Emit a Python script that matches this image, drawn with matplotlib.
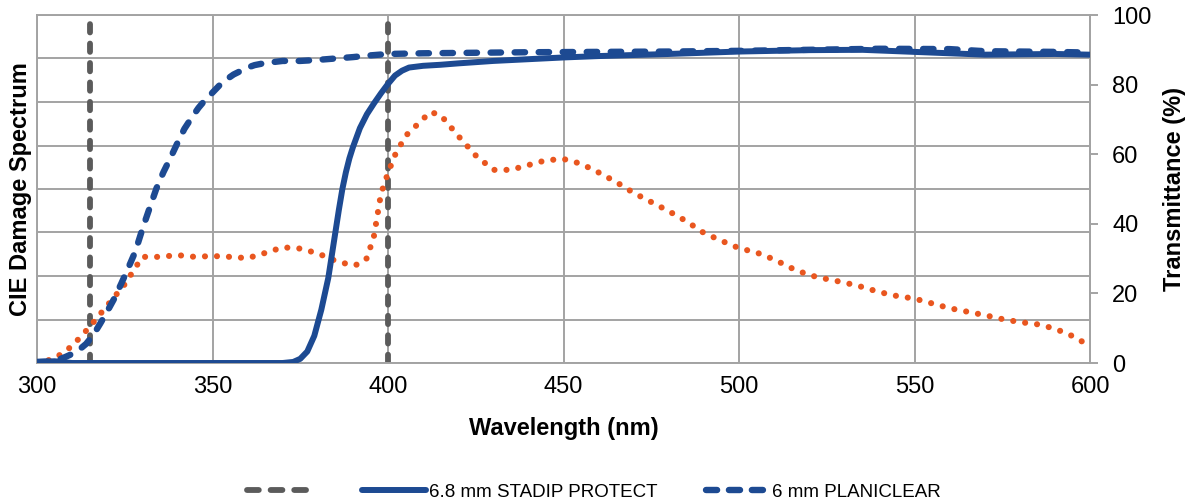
import numpy as np
import matplotlib
matplotlib.use("Agg")
import matplotlib.pyplot as plt
from matplotlib.lines import Line2D

plt.rcParams['font.family'] = ['Liberation Sans', 'DejaVu Sans']
plt.rcParams['lines.scale_dashes'] = False

# CIE damage spectrum (relative units, left axis)
cie_nm = [300, 305, 310, 315, 320, 325, 330, 335, 340, 345, 350, 355, 360, 365,
          370, 375, 380, 385, 390, 392, 394, 396, 398, 400, 402, 405, 410, 412,
          415, 420, 425, 430, 435, 440, 445, 450, 455, 460, 465, 470, 475, 480,
          485, 490, 495, 500, 505, 510, 515, 520, 525, 530, 535, 540, 545, 550,
          555, 560, 565, 570, 575, 580, 585, 590, 595, 600]
cie_val = [0.000, 0.010, 0.039, 0.083, 0.132, 0.181, 0.244, 0.244, 0.248, 0.244,
           0.246, 0.244, 0.241, 0.253, 0.266, 0.263, 0.252, 0.235, 0.224, 0.228,
           0.241, 0.292, 0.389, 0.437, 0.478, 0.522, 0.561, 0.577, 0.570, 0.522,
           0.477, 0.444, 0.444, 0.455, 0.466, 0.469, 0.458, 0.438, 0.416, 0.391,
           0.370, 0.349, 0.326, 0.299, 0.281, 0.264, 0.254, 0.238, 0.218, 0.202,
           0.193, 0.185, 0.175, 0.163, 0.154, 0.148, 0.137, 0.126, 0.118, 0.110,
           0.101, 0.094, 0.089, 0.079, 0.062, 0.039]

# 6.8 mm STADIP PROTECT transmittance (%)
stadip_nm = [300, 305, 310, 370, 373, 375, 377, 379, 381, 383, 384, 385, 386,
             387, 388, 389, 390, 392, 394, 396, 398, 400, 402, 404, 406, 410,
             415, 420, 430, 440, 450, 460, 480, 500, 520, 535, 550, 560, 570,
             580, 590, 600]
stadip_t = [0.3, 0.5, 0.0, 0.0, 0.3, 1.2, 3.3, 7.8, 15.3, 24.5, 31.0, 37.5, 44.0,
            50.0, 54.8, 58.8, 62.0, 67.5, 71.5, 74.6, 77.5, 80.2, 82.6, 84.0,
            84.9, 85.4, 85.7, 86.1, 86.8, 87.3, 87.8, 88.2, 88.8, 89.5, 89.9,
            90.0, 89.4, 89.0, 88.6, 88.7, 88.8, 88.6]

# 6 mm PLANICLEAR transmittance (%)
plani_nm = [300, 303, 306, 308, 310, 312, 314, 316, 318, 320, 322, 324, 326, 328,
            330, 332, 334, 336, 338, 340, 342, 344, 346, 348, 350, 352, 354, 356,
            358, 360, 362, 365, 370, 375, 380, 385, 390, 395, 400, 405, 410, 420,
            440, 460, 480, 500, 520, 540, 560, 570, 580, 590, 600]
plani_t = [0.3, 0.4, 0.9, 1.7, 2.6, 3.8, 5.5, 8.0, 11.3, 14.8, 18.5, 22.8, 27.3,
           32.0, 38.4, 44.3, 50.1, 54.8, 58.9, 63.2, 67.3, 70.4, 73.3, 75.7, 77.7,
           79.8, 81.5, 82.9, 83.9, 84.9, 85.6, 86.2, 86.8, 86.8, 87.1, 87.5, 87.9,
           88.4, 88.8, 88.9, 89.0, 89.1, 89.3, 89.4, 89.5, 89.7, 90.0, 90.3, 90.2,
           89.6, 89.5, 89.4, 89.2]

# Reference wavelengths marked with vertical lines
marker_nm = [315, 400]

x_ticks = [300, 350, 400, 450, 500, 550, 600]
t_ticks = [0, 20, 40, 60, 80, 100]

BLUE = '#1d4a92'
ORANGE = '#e9561f'
GREY = '#5b5b5b'
GRID = '#a3a3a3'

GREY_DASH = (6.0, 8.0)
BLUE_DASH = (7.5, 9.8)

fig = plt.figure(figsize=(11.95, 5.04), dpi=100)
ax = fig.add_axes([37 / 1195, 1 - 363 / 504, (1090 - 37) / 1195, 348 / 504])
ax2 = ax.twinx()

# left axis: CIE damage
ax.set_xlim(300, 600)
ax.set_ylim(0, 0.8)
ax.set_xticks(x_ticks)
ax.set_yticks(np.arange(0, 0.81, 0.1))
ax.set_yticklabels([])
ax.tick_params(axis='both', length=0)
ax.tick_params(axis='x', labelsize=17, pad=9.5)
ax.grid(True, color=GRID, lw=1.4)
ax.set_axisbelow(True)
for s in ['left', 'bottom', 'top', 'right']:
    ax.spines[s].set_color(GRID)
    ax.spines[s].set_linewidth(1.4)

for nm in marker_nm:
    ax.axvline(nm, color=GREY, lw=4.2, dashes=GREY_DASH, dash_capstyle='round',
               zorder=2)

ax.plot(cie_nm, cie_val, color=ORANGE, lw=4.4, dashes=(0.05, 8.6),
        dash_capstyle='round', zorder=3)

ax.set_xlabel('Wavelength (nm)', fontsize=17, fontweight='bold')
ax.xaxis.label.set_va('center')
ax.xaxis.set_label_coords(0.5, (363 - 428) / 348)
ax.set_ylabel('CIE Damage Spectrum', fontsize=17, fontweight='bold')
ax.yaxis.label.set_va('center')
ax.yaxis.set_label_coords((21 - 37) / 1053, 0.5)

# right axis: transmittance
ax2.set_ylim(0, 100)
ax2.set_yticks(t_ticks)
ax2.tick_params(axis='y', length=6, width=1.4, color=GRID, labelsize=17, pad=10,
                direction='out')
for s in ['left', 'bottom', 'top', 'right']:
    ax2.spines[s].set_visible(False)
ax2.spines['right'].set_visible(True)
ax2.spines['right'].set_color(GRID)
ax2.spines['right'].set_linewidth(1.4)

ax2.plot(stadip_nm, stadip_t, color=BLUE, lw=4.3, solid_capstyle='round', zorder=4)
ax2.plot(plani_nm, plani_t, color=BLUE, lw=4.6, dashes=BLUE_DASH,
         dash_capstyle='round', zorder=5)

ax2.set_ylabel('Transmittance (%)', fontsize=17, fontweight='bold', rotation=90)
ax2.yaxis.label.set_va('center')
ax2.yaxis.set_label_coords((1174 - 37) / 1053, 0.5)

# legend handles use a longer dash so each key shows three dashes
handles = [
    Line2D([], [], color=GREY, lw=4.2, dashes=(8.5, 8.5), dash_capstyle='round'),
    Line2D([], [], color=BLUE, lw=4.3, solid_capstyle='round'),
    Line2D([], [], color=BLUE, lw=4.6, dashes=(8.0, 8.5), dash_capstyle='round'),
]
labels = ['', '6.8 mm STADIP PROTECT', '6 mm PLANICLEAR']
fig.legend(handles, labels, loc='center', bbox_to_anchor=(0.497, 12 / 504),
           ncol=3, frameon=False, handlelength=3.4, handletextpad=0.15,
           columnspacing=2.6,
           prop={'family': ['Liberation Sans Narrow', 'Liberation Sans'], 'size': 13.5})

fig.savefig('out.png', dpi=100)
